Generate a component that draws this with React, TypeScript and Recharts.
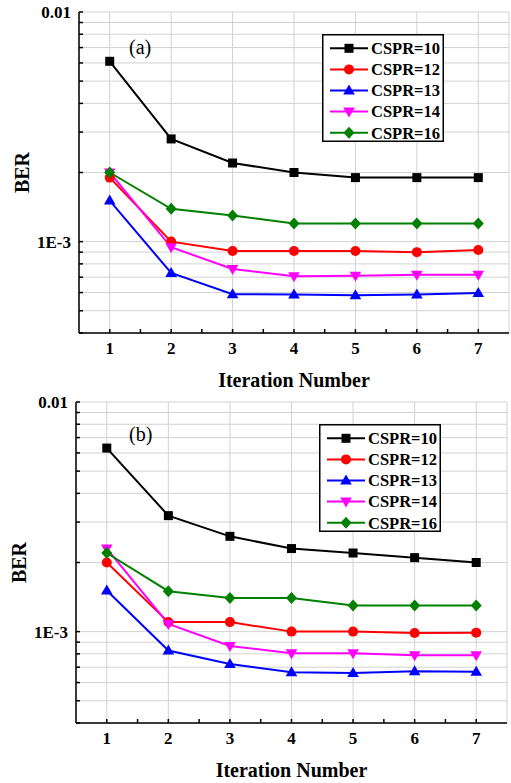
import React from "react";
import {
  LineChart,
  Line,
  XAxis,
  YAxis,
  CartesianGrid,
  Legend,
  Label,
} from "recharts";

const iterations = [1, 2, 3, 4, 5, 6, 7];
const seriesNames = ["CSPR=10", "CSPR=12", "CSPR=13", "CSPR=14", "CSPR=16"];
const seriesColors = ["#000000", "#ff0000", "#0000ff", "#ff00ff", "#008000"];
const seriesShapes = ["square", "circle", "triangle", "down", "diamond"];

// panel (a)
const berA10 = [6.1e-3, 2.8e-3, 2.2e-3, 2.0e-3, 1.9e-3, 1.9e-3, 1.9e-3];
const berA12 = [1.9e-3, 1.0e-3, 9.1e-4, 9.1e-4, 9.1e-4, 9.0e-4, 9.2e-4];
const berA13 = [1.51e-3, 7.3e-4, 5.9e-4, 5.88e-4, 5.84e-4, 5.88e-4, 5.97e-4];
const berA14 = [2.0e-3, 9.45e-4, 7.6e-4, 7.06e-4, 7.1e-4, 7.18e-4, 7.18e-4];
const berA16 = [2.0e-3, 1.39e-3, 1.3e-3, 1.2e-3, 1.2e-3, 1.2e-3, 1.2e-3];

// panel (b)
const berB10 = [6.3e-3, 3.2e-3, 2.6e-3, 2.3e-3, 2.2e-3, 2.1e-3, 2.0e-3];
const berB12 = [2.0e-3, 1.1e-3, 1.1e-3, 1.0e-3, 1.0e-3, 9.87e-4, 9.9e-4];
const berB13 = [1.51e-3, 8.27e-4, 7.23e-4, 6.66e-4, 6.61e-4, 6.72e-4, 6.68e-4];
const berB14 = [2.3e-3, 1.08e-3, 8.66e-4, 8.05e-4, 8.05e-4, 7.89e-4, 7.89e-4];
const berB16 = [2.2e-3, 1.5e-3, 1.4e-3, 1.4e-3, 1.3e-3, 1.3e-3, 1.3e-3];

const xTicks = [1, 1.5, 2, 2.5, 3, 3.5, 4, 4.5, 5, 5.5, 6, 6.5, 7];
const yTicks = [
  4e-4, 5e-4, 6e-4, 7e-4, 8e-4, 9e-4, 1e-3, 2e-3, 3e-3, 4e-3, 5e-3, 6e-3,
  7e-3, 8e-3, 9e-3, 1e-2,
];

const FONT = '"Liberation Serif", "Times New Roman", serif';

const buildRows = (cols: number[][]) =>
  iterations.map((it, i) => {
    const row: Record<string, number> = { iter: it };
    cols.forEach((c, k) => (row[`s${k}`] = c[i]));
    return row;
  });

const Marker = ({ cx, cy, shape, color }: any) => {
  if (cx == null || cy == null) return null;
  switch (shape) {
    case "square":
      return <rect x={cx - 4.5} y={cy - 4.5} width={9} height={9} fill={color} />;
    case "circle":
      return <circle cx={cx} cy={cy} r={5} fill={color} />;
    case "triangle":
      return (
        <polygon
          points={`${cx},${cy - 6} ${cx - 5.8},${cy + 4} ${cx + 5.8},${cy + 4}`}
          fill={color}
        />
      );
    case "down":
      return (
        <polygon
          points={`${cx},${cy + 6} ${cx - 5.8},${cy - 4} ${cx + 5.8},${cy - 4}`}
          fill={color}
        />
      );
    default:
      return (
        <polygon
          points={`${cx},${cy - 6} ${cx + 5.5},${cy} ${cx},${cy + 6} ${cx - 5.5},${cy}`}
          fill={color}
        />
      );
  }
};

const renderLegend = () => (
  <svg width={122} height={108} style={{ display: "block" }}>
    <rect
      x={0.75}
      y={0.75}
      width={120.5}
      height={106.5}
      fill="#fff"
      stroke="#000"
      strokeWidth={1.5}
    />
    {seriesNames.map((name, i) => {
      const cy = 14.3 + i * 21.1;
      return (
        <g key={name}>
          <line x1={8} x2={46} y1={cy} y2={cy} stroke={seriesColors[i]} strokeWidth={2} />
          <Marker cx={27} cy={cy} shape={seriesShapes[i]} color={seriesColors[i]} />
          <text
            x={49}
            y={cy + 5.8}
            fontFamily={FONT}
            fontWeight="bold"
            fontSize={16.5}
            fill="#000"
          >
            {name}
          </text>
        </g>
      );
    })}
  </svg>
);

const tickStyle = { fontFamily: FONT, fontWeight: "bold", fontSize: 17, fill: "#000" };

const yLabel = (v: number) => (v === 0.01 ? "0.01" : v === 0.001 ? "1E-3" : "");
const xLabel = (v: number) => (Number.isInteger(v) ? String(v) : "");

interface PanelProps {
  tag: string;
  cols: number[][];
  height: number;
  yAxisWidth: number;
  right: number;
  bottom: number;
  legendLeft: number;
  tagTop: number;
}

const Panel = ({ tag, cols, height, yAxisWidth, right, bottom, legendLeft, tagTop }: PanelProps) => {
  const rows = buildRows(cols);
  return (
    <div style={{ position: "relative", width: 511, height }}>
      <LineChart
        width={511}
        height={height}
        data={rows}
        margin={{ top: 12, right, bottom, left: 0 }}
      >
        {/* vertical grid only at whole iterations */}
        <XAxis
          xAxisId="grid"
          type="number"
          dataKey="iter"
          domain={[0.5, 7.5]}
          ticks={iterations}
          interval={0}
          hide
          allowDataOverflow
        />
        <CartesianGrid xAxisId="grid" stroke="#d2d2d2" strokeWidth={1} />
        <XAxis
          dataKey="iter"
          type="number"
          domain={[0.5, 7.5]}
          ticks={xTicks}
          interval={0}
          tickFormatter={xLabel}
          tickSize={-4}
          tickMargin={13}
          height={30}
          stroke="#000"
          strokeWidth={1.5}
          tick={tickStyle}
          allowDataOverflow
        >
          <Label
            content={({ viewBox }: any) => (
              <text
                x={viewBox.x + viewBox.width / 2}
                y={viewBox.y + 54}
                textAnchor="middle"
                fontFamily={FONT}
                fontWeight="bold"
                fontSize={20}
                fill="#000"
              >
                Iteration Number
              </text>
            )}
          />
        </XAxis>
        <XAxis
          xAxisId="top"
          orientation="top"
          type="number"
          dataKey="iter"
          domain={[0.5, 7.5]}
          ticks={xTicks}
          interval={0}
          height={0}
          mirror
          tick={false}
          tickSize={4}
          stroke="#000"
          strokeWidth={1.5}
          allowDataOverflow
        />
        <YAxis
          type="number"
          scale="log"
          domain={[0.0004, 0.01]}
          ticks={yTicks}
          interval={0}
          tickFormatter={yLabel}
          tickSize={-4}
          tickMargin={12}
          width={yAxisWidth}
          stroke="#000"
          strokeWidth={1.5}
          tick={tickStyle}
          allowDataOverflow
        >
          <Label
            content={({ viewBox }: any) => {
              const cx = viewBox.x + viewBox.width - 57;
              const cy = viewBox.y + viewBox.height / 2;
              return (
                <text
                  x={cx}
                  y={cy}
                  transform={`rotate(-90 ${cx} ${cy})`}
                  textAnchor="middle"
                  dominantBaseline="central"
                  fontFamily={FONT}
                  fontWeight="bold"
                  fontSize={20}
                  fill="#000"
                >
                  BER
                </text>
              );
            }}
          />
        </YAxis>
        <YAxis
          yAxisId="right"
          orientation="right"
          type="number"
          scale="log"
          domain={[0.0004, 0.01]}
          ticks={yTicks}
          interval={0}
          width={0}
          mirror
          tick={false}
          tickSize={4}
          stroke="#000"
          strokeWidth={1.5}
          allowDataOverflow
        />
        <Legend
          layout="vertical"
          align="center"
          verticalAlign="middle"
          content={renderLegend}
          wrapperStyle={{ left: legendLeft, top: 34, width: 122, height: 108 }}
        />
        {seriesNames.map((name, k) => (
          <Line
            key={name}
            name={name}
            dataKey={`s${k}`}
            stroke={seriesColors[k]}
            strokeWidth={2}
            isAnimationActive={false}
            dot={(p: any) => (
              <Marker
                key={`${name}-${p.index}`}
                cx={p.cx}
                cy={p.cy}
                shape={seriesShapes[k]}
                color={seriesColors[k]}
              />
            )}
            activeDot={false}
          />
        ))}
      </LineChart>
      <div
        style={{
          position: "absolute",
          left: 129,
          top: tagTop,
          fontFamily: FONT,
          fontSize: 20,
          lineHeight: "20px",
          color: "#000",
        }}
      >
        {tag}
      </div>
    </div>
  );
};

export default function App() {
  return (
    <div
      style={{
        position: "absolute",
        left: 0,
        top: 0,
        width: 511,
        height: 783,
        background: "#fff",
      }}
    >
      <Panel
        tag="(a)"
        cols={[berA10, berA12, berA13, berA14, berA16]}
        height={390}
        yAxisWidth={79}
        right={2}
        bottom={27}
        legendLeft={322}
        tagTop={37}
      />
      <Panel
        tag="(b)"
        cols={[berB10, berB12, berB13, berB14, berB16]}
        height={393}
        yAxisWidth={76}
        right={4}
        bottom={30}
        legendLeft={319}
        tagTop={34}
      />
    </div>
  );
}
